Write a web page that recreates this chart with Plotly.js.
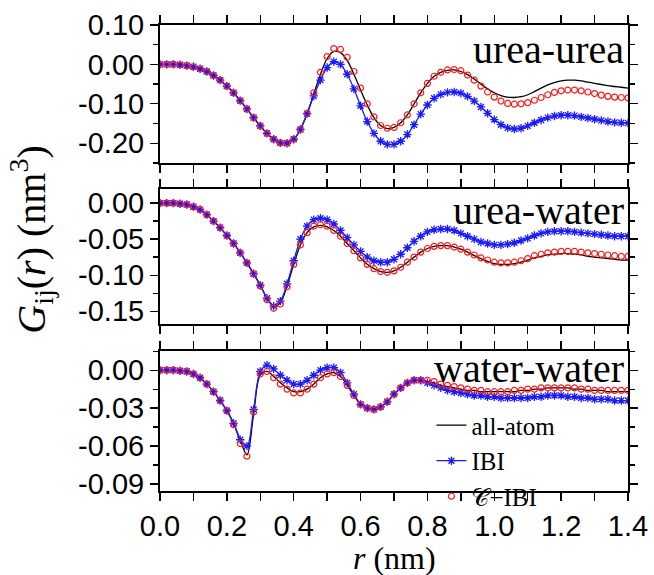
<!DOCTYPE html>
<html>
<head>
<meta charset="utf-8">
<script src="https://cdn.plot.ly/plotly-3.0.1.min.js"></script>
<style>body{margin:0;background:#fff}</style>
</head>
<body>
<div id="graph" style="width:654px;height:575px"></div>
<script>
// r grid, 0.02 nm step
var r = [];
for (var i = 0; i <= 70; i++) r.push(+(i * 0.02).toFixed(2));

// urea-urea
var uuAA = [0,0,0,-0.001,-0.003,-0.006,-0.011,-0.018,-0.028,-0.040,-0.055,-0.072,-0.092,-0.113,-0.135,-0.156,-0.175,-0.190,-0.199,-0.200,
  -0.190,-0.165,-0.125,-0.075,-0.025,0.015,0.033,0.030,0.010,-0.025,-0.065,-0.103,-0.135,-0.155,-0.163,-0.160,-0.148,-0.128,-0.100,-0.072,
  -0.048,-0.030,-0.020,-0.015,-0.014,-0.018,-0.026,-0.037,-0.050,-0.062,-0.072,-0.079,-0.083,-0.084,-0.082,-0.077,-0.069,-0.060,-0.052,-0.046,
  -0.042,-0.040,-0.040,-0.042,-0.045,-0.048,-0.051,-0.054,-0.056,-0.058,-0.060];
var uuIBI = [0,0,0,-0.001,-0.003,-0.006,-0.011,-0.018,-0.028,-0.040,-0.055,-0.072,-0.092,-0.113,-0.135,-0.156,-0.175,-0.190,-0.199,-0.200,
  -0.190,-0.165,-0.125,-0.080,-0.040,-0.008,0.007,0.000,-0.025,-0.062,-0.105,-0.145,-0.175,-0.195,-0.203,-0.203,-0.195,-0.178,-0.153,-0.126,
  -0.103,-0.086,-0.076,-0.071,-0.070,-0.073,-0.081,-0.093,-0.108,-0.124,-0.140,-0.153,-0.161,-0.164,-0.162,-0.156,-0.148,-0.141,-0.135,-0.131,
  -0.129,-0.129,-0.130,-0.133,-0.136,-0.139,-0.142,-0.145,-0.147,-0.148,-0.149];
var uuCIBI = [0,0,0,-0.001,-0.003,-0.006,-0.011,-0.018,-0.028,-0.040,-0.055,-0.072,-0.092,-0.113,-0.135,-0.156,-0.175,-0.190,-0.199,-0.200,
  -0.190,-0.165,-0.125,-0.072,-0.020,0.020,0.040,0.038,0.018,-0.018,-0.060,-0.100,-0.133,-0.155,-0.162,-0.160,-0.148,-0.128,-0.100,-0.072,
  -0.048,-0.030,-0.020,-0.014,-0.013,-0.016,-0.027,-0.040,-0.055,-0.070,-0.083,-0.093,-0.099,-0.101,-0.100,-0.097,-0.091,-0.084,-0.077,-0.071,
  -0.067,-0.065,-0.065,-0.067,-0.070,-0.074,-0.078,-0.081,-0.083,-0.084,-0.085];

// urea-water
var uwAA = [0,0,0,-0.001,-0.002,-0.005,-0.009,-0.016,-0.025,-0.034,-0.045,-0.056,-0.069,-0.083,-0.098,-0.114,-0.132,-0.143,-0.138,-0.115,
  -0.085,-0.058,-0.041,-0.033,-0.031,-0.033,-0.038,-0.046,-0.056,-0.066,-0.076,-0.085,-0.091,-0.095,-0.096,-0.094,-0.089,-0.082,-0.075,-0.068,
  -0.063,-0.060,-0.059,-0.059,-0.061,-0.064,-0.068,-0.073,-0.077,-0.081,-0.084,-0.085,-0.085,-0.084,-0.082,-0.079,-0.076,-0.074,-0.072,-0.071,
  -0.070,-0.070,-0.071,-0.072,-0.074,-0.075,-0.076,-0.077,-0.078,-0.079,-0.079];
var uwIBI = [0,0,0,-0.001,-0.002,-0.005,-0.009,-0.016,-0.025,-0.034,-0.045,-0.056,-0.069,-0.083,-0.098,-0.114,-0.132,-0.143,-0.136,-0.112,
  -0.080,-0.050,-0.032,-0.023,-0.021,-0.023,-0.029,-0.038,-0.048,-0.058,-0.067,-0.075,-0.080,-0.082,-0.082,-0.078,-0.071,-0.062,-0.053,-0.046,
  -0.040,-0.037,-0.036,-0.036,-0.038,-0.042,-0.046,-0.050,-0.054,-0.056,-0.058,-0.058,-0.057,-0.055,-0.052,-0.049,-0.045,-0.042,-0.040,-0.039,
  -0.039,-0.039,-0.040,-0.041,-0.042,-0.043,-0.044,-0.045,-0.046,-0.046,-0.046];
var uwCIBI = [0,0,0,-0.001,-0.002,-0.005,-0.009,-0.016,-0.025,-0.034,-0.045,-0.056,-0.069,-0.083,-0.098,-0.115,-0.134,-0.146,-0.140,-0.116,
  -0.085,-0.058,-0.041,-0.032,-0.030,-0.032,-0.038,-0.046,-0.056,-0.066,-0.076,-0.085,-0.091,-0.095,-0.096,-0.094,-0.089,-0.082,-0.075,-0.068,
  -0.063,-0.060,-0.059,-0.059,-0.061,-0.064,-0.068,-0.072,-0.076,-0.079,-0.082,-0.083,-0.083,-0.082,-0.080,-0.077,-0.073,-0.071,-0.069,-0.068,
  -0.067,-0.067,-0.067,-0.068,-0.069,-0.070,-0.071,-0.072,-0.073,-0.074,-0.074];

// water-water
var wwAA = [0,0,0,-0.0005,-0.001,-0.003,-0.006,-0.011,-0.017,-0.024,-0.032,-0.042,-0.055,-0.067,-0.035,-0.004,-0.001,-0.005,-0.010,-0.014,
  -0.017,-0.017,-0.015,-0.011,-0.006,-0.003,-0.002,-0.005,-0.012,-0.020,-0.027,-0.030,-0.031,-0.029,-0.025,-0.019,-0.014,-0.010,-0.008,-0.008,
  -0.009,-0.010,-0.012,-0.013,-0.014,-0.015,-0.016,-0.016,-0.017,-0.017,-0.017,-0.017,-0.017,-0.017,-0.016,-0.016,-0.015,-0.015,-0.014,-0.014,
  -0.014,-0.014,-0.015,-0.015,-0.016,-0.016,-0.016,-0.017,-0.017,-0.017,-0.017];
var wwIBI = [0,0,0,-0.0005,-0.001,-0.003,-0.006,-0.011,-0.017,-0.024,-0.032,-0.042,-0.055,-0.060,-0.031,-0.001,0.004,0.001,-0.004,-0.008,
  -0.011,-0.011,-0.008,-0.004,0.000,0.002,0.002,-0.002,-0.010,-0.019,-0.027,-0.030,-0.031,-0.029,-0.025,-0.019,-0.014,-0.010,-0.008,-0.008,
  -0.010,-0.012,-0.014,-0.016,-0.017,-0.018,-0.019,-0.020,-0.020,-0.021,-0.021,-0.022,-0.022,-0.022,-0.022,-0.022,-0.021,-0.021,-0.020,-0.020,
  -0.020,-0.021,-0.021,-0.022,-0.022,-0.023,-0.023,-0.023,-0.024,-0.024,-0.024];
var wwCIBI = [0,0,0,-0.0005,-0.001,-0.003,-0.006,-0.011,-0.017,-0.024,-0.032,-0.043,-0.058,-0.068,-0.033,-0.003,-0.001,-0.006,-0.011,-0.015,
  -0.018,-0.018,-0.015,-0.011,-0.006,-0.003,-0.002,-0.005,-0.012,-0.020,-0.027,-0.030,-0.031,-0.029,-0.025,-0.019,-0.014,-0.010,-0.008,-0.008,
  -0.008,-0.009,-0.011,-0.012,-0.013,-0.014,-0.015,-0.016,-0.016,-0.017,-0.017,-0.017,-0.017,-0.016,-0.016,-0.015,-0.015,-0.014,-0.014,-0.014,
  -0.014,-0.014,-0.014,-0.015,-0.015,-0.016,-0.016,-0.016,-0.016,-0.016,-0.016];

var panels = [
  {name: 'urea-urea', aa: uuAA, ibi: uuIBI, cibi: uuCIBI},
  {name: 'urea-water', aa: uwAA, ibi: uwIBI, cibi: uwCIBI},
  {name: 'water-water', aa: wwAA, ibi: wwIBI, cibi: wwCIBI}
];

var data = [];
panels.forEach(function (p, k) {
  var xa = 'x' + (k + 1), ya = 'y' + (k + 1);
  var leg = (k == 2);
  data.push({x: r, y: p.aa, xaxis: xa, yaxis: ya, mode: 'lines', name: 'all-atom',
    line: {color: 'black', width: 1.3, shape: 'spline'}, showlegend: leg});
  data.push({x: r, y: p.ibi, xaxis: xa, yaxis: ya, mode: 'lines+markers', name: 'IBI',
    line: {color: '#1a1aff', width: 1.3, shape: 'spline'},
    marker: {symbol: 'asterisk-open', size: 7, color: '#1a1aff', line: {color: '#1a1aff', width: 1.3}}, showlegend: leg});
  data.push({x: r, y: p.cibi, xaxis: xa, yaxis: ya, mode: 'markers', name: '𝒞−IBI',
    marker: {symbol: 'circle-open', size: 6, color: '#ff1a1a', line: {color: '#ff1a1a', width: 1.2}}, showlegend: leg});
});

var tickFont = {family: 'Liberation Sans, Arial', size: 29, color: 'black'};
function xax(dom, labels) {
  return {domain: [0, 1], range: [0, 1.4], anchor: dom, showline: true, mirror: 'ticks', linewidth: 2, linecolor: 'black',
    ticks: 'outside', ticklen: 8, tickwidth: 1.3, tickcolor: 'black', showgrid: false, zeroline: false,
    tickvals: [0, 0.2, 0.4, 0.6, 0.8, 1.0, 1.2, 1.4], ticktext: ['0.0','0.2','0.4','0.6','0.8','1.0','1.2','1.4'],
    minor: {dtick: 0.1, ticks: 'outside', ticklen: 8, tickcolor: 'black', tickwidth: 1.3},
    showticklabels: labels, tickfont: tickFont};
}
function yax(dom, range, vals, text, mdt) {
  return {domain: dom, range: range, showline: true, mirror: 'ticks', linewidth: 2, linecolor: 'black',
    ticks: 'outside', ticklen: 8, tickwidth: 1.3, tickcolor: 'black', showgrid: false, zeroline: false,
    tickvals: vals, ticktext: text, tickfont: tickFont,
    minor: {dtick: mdt, ticks: 'outside', ticklen: 5, tickcolor: 'black', tickwidth: 1.3}};
}

var serif = 'Liberation Serif, DejaVu Serif, serif';
var layout = {
  width: 654, height: 575,
  margin: {l: 160, r: 26, t: 25, b: 84},
  paper_bgcolor: 'white', plot_bgcolor: 'white',
  showlegend: true,
  legend: {x: 0.58, y: 0.19, xanchor: 'left', yanchor: 'top', bgcolor: 'rgba(0,0,0,0)',
    font: {family: serif, size: 25, color: 'black'}, tracegroupgap: 0},
  xaxis: xax('y', false),
  xaxis2: xax('y2', false),
  xaxis3: xax('y3', true),
  yaxis: yax([0.704, 1], [-0.25, 0.10], [0.10, 0, -0.10, -0.20], ['0.10', '0.00', '-0.10', '-0.20'], 0.05),
  yaxis2: yax([0.358, 0.648], [-0.168, 0.0195], [0, -0.05, -0.10, -0.15], ['0.00', '-0.05', '-0.10', '-0.15'], 0.025),
  yaxis3: yax([0, 0.30], [-0.0955, 0.015], [0, -0.03, -0.06, -0.09], ['0.00', '-0.03', '-0.06', '-0.09'], 0.015),
  annotations: [
    {text: 'urea-urea', xref: 'paper', yref: 'paper', x: 0.995, y: 1.0, xanchor: 'right', yanchor: 'top', showarrow: false, font: {family: serif, size: 40, color: 'black'}},
    {text: 'urea-water', xref: 'paper', yref: 'paper', x: 0.995, y: 0.655, xanchor: 'right', yanchor: 'top', showarrow: false, font: {family: serif, size: 40, color: 'black'}},
    {text: 'water-water', xref: 'paper', yref: 'paper', x: 0.995, y: 0.315, xanchor: 'right', yanchor: 'top', showarrow: false, font: {family: serif, size: 40, color: 'black'}},
    {text: '<i>G</i><sub>ij</sub>(<i>r</i>) (nm<sup>3</sup>)', xref: 'paper', yref: 'paper', x: -0.275, y: 0.54, textangle: -90,
      xanchor: 'center', yanchor: 'middle', showarrow: false, font: {family: serif, size: 40, color: 'black'}},
    {text: '<i>r</i> (nm)', xref: 'paper', yref: 'paper', x: 0.5, y: -0.143, xanchor: 'center', yanchor: 'middle',
      showarrow: false, font: {family: serif, size: 32, color: 'black'}}
  ]
};

Plotly.newPlot('graph', data, layout, {displayModeBar: false, staticPlot: true});
</script>
</body>
</html>
